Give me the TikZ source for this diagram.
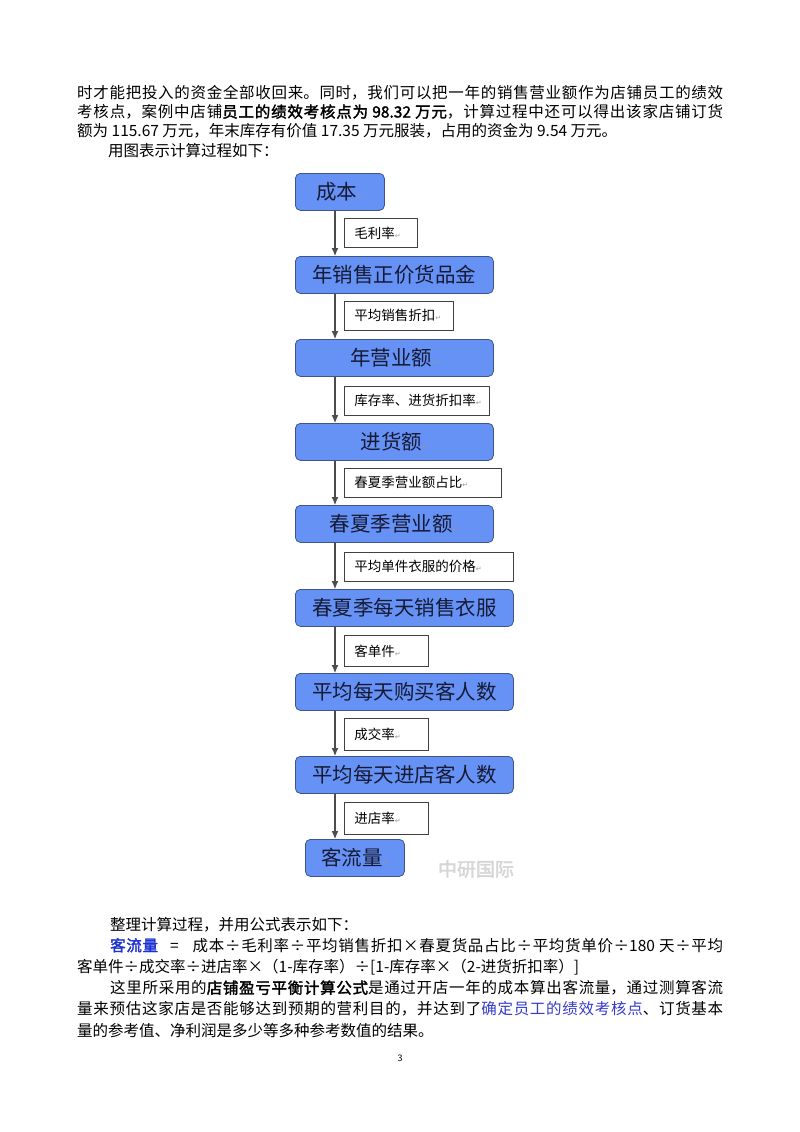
\documentclass[tikz,border=0pt]{standalone}
\usepackage{fontspec}
\setmainfont{Noto Sans CJK SC}[BoldFont={Noto Sans CJK SC},BoldFeatures={FakeBold=2}]
\newfontfamily\markfont{DejaVu Sans}
\usetikzlibrary{arrows.meta}

\definecolor{boxblue}{RGB}{102,146,246}
\definecolor{boxedge}{RGB}{62,84,138}
\definecolor{boxtext}{RGB}{22,26,52}
\definecolor{titleblue}{RGB}{30,50,210}
\definecolor{linkblue}{RGB}{55,60,205}
\definecolor{markgray}{RGB}{150,150,150}
\definecolor{wmgray}{RGB}{214,214,214}
\newcommand\parmark{{\markfont\fontsize{7}{7}\selectfont\color{markgray}↵}}
\newcommand\bodyfont{\XeTeXlinebreaklocale "zh"\XeTeXlinebreakskip=0pt plus 2pt\relax
  \fontsize{15.5}{19.5}\selectfont}
\newcommand\bodyfontlow{\XeTeXlinebreaklocale "zh"\XeTeXlinebreakskip=0pt plus 2pt\relax
  \fontsize{15.5}{21.2}\selectfont}
\newcommand\tagfont{\XeTeXlinebreaklocale ""\fontsize{13.5}{15}\selectfont}

\begin{document}
\begin{tikzpicture}[x=1pt,y=-1pt,
  flowbox/.style={draw=boxedge,line width=0.8pt,fill=boxblue,rounded corners=5pt,
    anchor=north west,minimum height=37pt,inner sep=0pt,text=boxtext,
    font=\fontsize{20.5}{22}\selectfont},
  tagbox/.style={draw=black!75,line width=0.7pt,fill=white,anchor=north west,
    minimum height=29pt,inner xsep=10pt,inner ysep=0pt,align=left,font=\tagfont},
  flowline/.style={draw=black!70,line width=1.1pt,-{Latex[length=8pt,width=7pt]}},
  bodytext/.style={anchor=base west,inner sep=0pt,text width=646pt,align=justify}]
\fill[color=white] (0,0) rectangle (800,1132);
\useasboundingbox (0,0) rectangle (800,1132);

% text above the chart
\node[bodytext,font=\bodyfont] (para1) at (77,98) {%
时才能把投入的资金全部收回来。同时，我们可以把一年的销售营业额作为店铺员工的绩效\linebreak
考核点，案例中店铺\textbf{员工的绩效考核点为 98.32 万元}，计算过程中还可以得出该家店铺订货\linebreak
额为 115.67 万元，年末库存有价值 17.35 万元服装，占用的资金为 9.54 万元。\par
\hspace*{31pt}用图表示计算过程如下：};

% chart
\node[flowbox,minimum width=89pt] (cost) at (295,173) {成本\parmark};
\node[tagbox,text width=53pt] (gm) at (344,218) {毛利率\parmark};
\node[flowbox,minimum width=198pt] (fullprice) at (295,256) {年销售正价货品金};
\node[tagbox,text width=89pt] (disc) at (344,301) {平均销售折扣\parmark};
\node[flowbox,minimum width=198pt] (turnover) at (295,339) {年营业额\parmark};
\node[tagbox,text width=125pt] (stock) at (344,386) {库存率、进货折扣率\parmark};
\node[flowbox,minimum width=198pt] (purchase) at (295,423) {进货额\parmark};
\node[tagbox,text width=137pt] (share) at (344,468) {春夏季营业额占比\parmark};
\node[flowbox,minimum width=198pt] (season) at (295,505) {春夏季营业额\parmark};
\node[tagbox,text width=149pt] (price) at (344,552) {平均单件衣服的价格\parmark};
\node[flowbox,minimum width=218pt] (daily) at (295,589) {春夏季每天销售衣服};
\node[tagbox,text width=64pt,minimum height=31pt] (perorder) at (344,635) {客单件\parmark};
\node[flowbox,minimum width=218pt] (buyers) at (295,673) {平均每天购买客人数};
\node[tagbox,text width=64pt,minimum height=32pt] (conv) at (344,718) {成交率\parmark};
\node[flowbox,minimum width=218pt] (visitors) at (295,756) {平均每天进店客人数};
\node[tagbox,text width=64pt,minimum height=32pt] (entry) at (344,802) {进店率\parmark};
\node[flowbox,minimum width=99pt] (traffic) at (305,839) {客流量\parmark};
\node[font=\fontsize{19}{19}\selectfont\bfseries,text=wmgray] (mark) at (476,869) {中研国际};

\draw[flowline] ([xshift=40pt]cost.south west) -- ([xshift=40pt]cost.south west |- fullprice.north);
\draw[flowline] ([xshift=40pt]fullprice.south west) -- ([xshift=40pt]fullprice.south west |- turnover.north);
\draw[flowline] ([xshift=40pt]turnover.south west) -- ([xshift=40pt]turnover.south west |- purchase.north);
\draw[flowline] ([xshift=40pt]purchase.south west) -- ([xshift=40pt]purchase.south west |- season.north);
\draw[flowline] ([xshift=40pt]season.south west) -- ([xshift=40pt]season.south west |- daily.north);
\draw[flowline] ([xshift=40pt]daily.south west) -- ([xshift=40pt]daily.south west |- buyers.north);
\draw[flowline] ([xshift=40pt]buyers.south west) -- ([xshift=40pt]buyers.south west |- visitors.north);
\draw[flowline] ([xshift=40pt]visitors.south west) -- ([xshift=40pt]visitors.south west |- traffic.north);

% text below the chart
\node[bodytext,font=\bodyfontlow] (para2) at (77,930) {%
\hspace*{33pt}整理计算过程，并用公式表示如下：\par
\hspace*{33pt}\textcolor{titleblue}{\textbf{客流量}}\hspace{12pt}=\hspace{14pt}成本÷毛利率÷平均销售折扣×春夏货品占比÷平均货单价÷180 天÷平均\linebreak
客单件÷成交率÷进店率×（1-库存率）÷[1-库存率×（2-进货折扣率）]\par
\hspace*{33pt}这里所采用的\textbf{店铺盈亏平衡计算公式}是通过开店一年的成本算出客流量，通过测算客流\linebreak
量来预估这家店是否能够达到预期的营利目的，并达到了\textcolor{linkblue}{确定员工的绩效考核点}、订货基本\linebreak
量的参考值、净利润是多少等多种参考数值的结果。};
\node[font=\fontsize{9}{9}\selectfont] (pageno) at (400,1058) {3};
\end{tikzpicture}
\end{document}
